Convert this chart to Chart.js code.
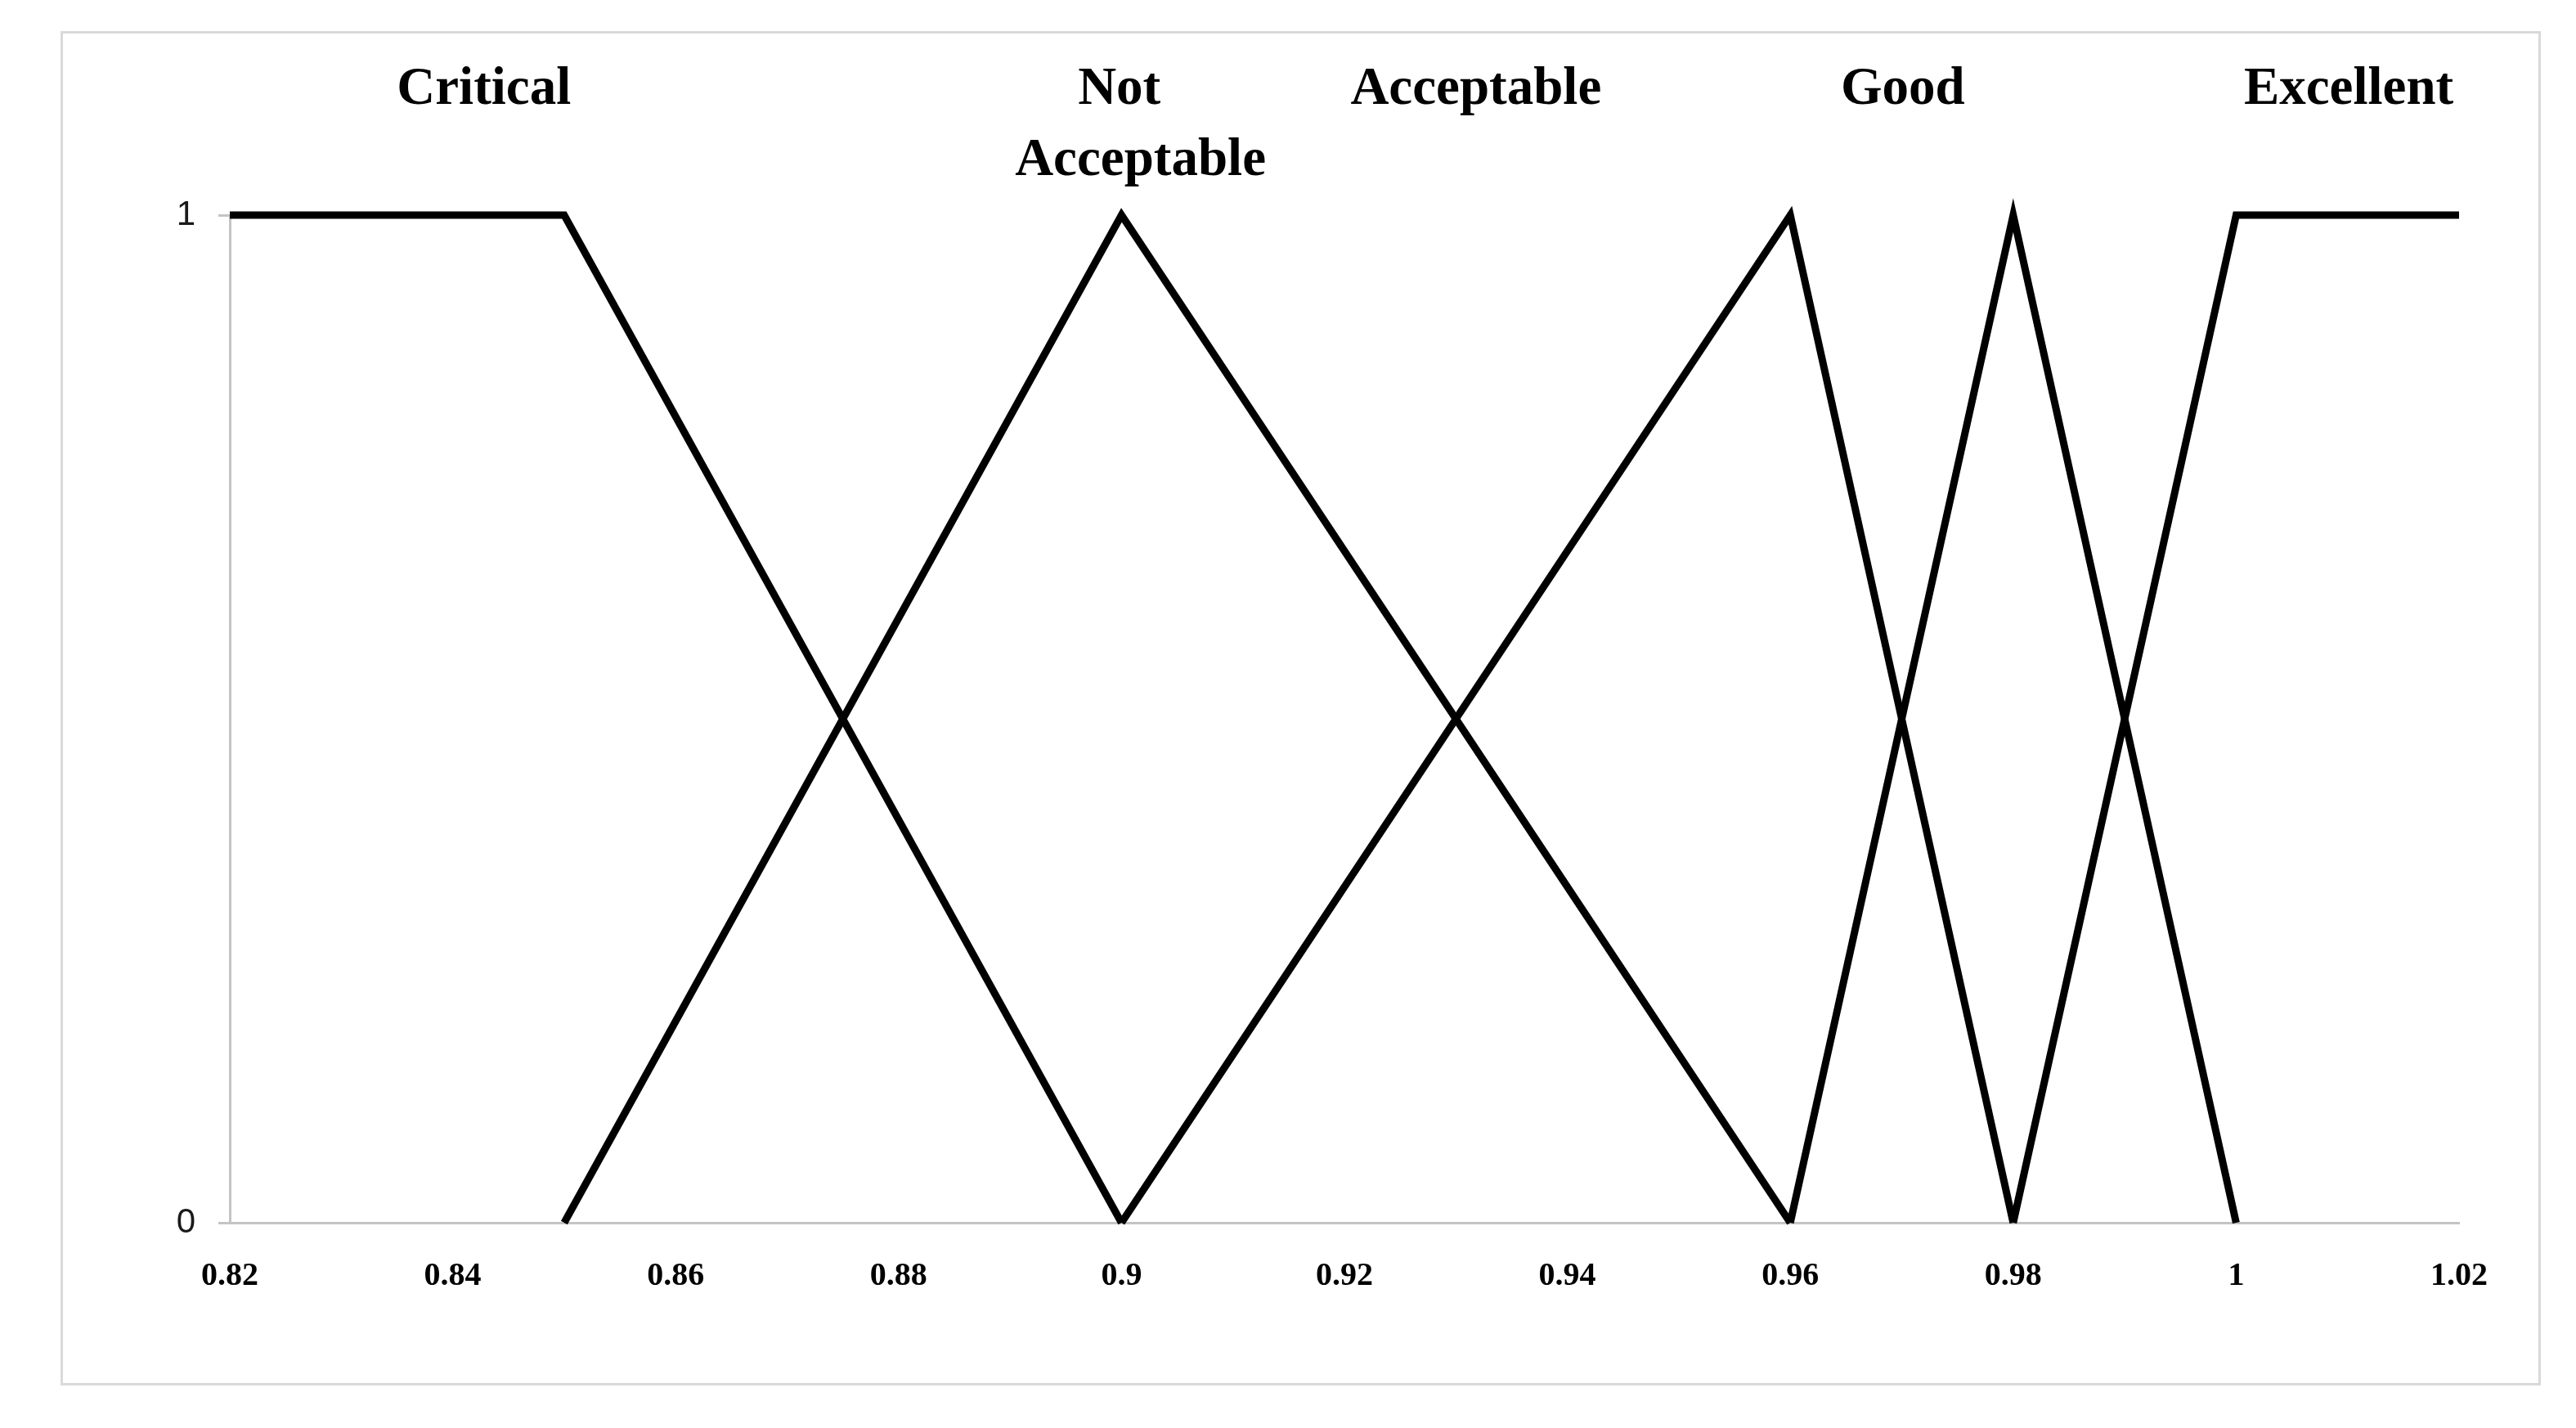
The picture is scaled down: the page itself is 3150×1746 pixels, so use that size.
<!DOCTYPE html>
<html>
<head>
<meta charset="utf-8">
<script src="https://cdn.jsdelivr.net/npm/chart.js@4.4.1/dist/chart.umd.min.js"></script>
<style>
  html, body { margin:0; padding:0; background:#ffffff; }
  #wrap { position:relative; width:3150px; height:1746px; }
  #marco { position:absolute; left:74px; top:38px; width:3027px; height:1650px; border:3px solid #d9d9d9; }
  canvas { position:absolute; left:0; top:0; }
</style>
</head>
<body>
<div id="wrap">
  <div id="marco"></div>
  <canvas id="chartFuzzy"></canvas>
</div>
<script>
// ── Datos ──
const xTicks = [0.82, 0.84, 0.86, 0.88, 0.9, 0.92, 0.94, 0.96, 0.98, 1, 1.02];
const yTicks = [0, 1];

const critical      = [[0.82, 1], [0.85, 1], [0.90, 0]];
const notAcceptable = [[0.85, 0], [0.90, 1], [0.96, 0]];
const acceptable    = [[0.90, 0], [0.96, 1], [0.98, 0]];
const good          = [[0.96, 0], [0.98, 1], [1.00, 0]];
const excellent     = [[0.98, 0], [1.00, 1], [1.02, 1]];

// etiquetas de cada conjunto (valor x del centro, fila)
const etiquetas = [
  { texto:'Critical',   x:0.8428, fila:0 },
  { texto:'Not',        x:0.8998, fila:0 },
  { texto:'Acceptable', x:0.9017, fila:1 },
  { texto:'Acceptable', x:0.9318, fila:0 },
  { texto:'Good',       x:0.9701, fila:0 },
  { texto:'Excellent',  x:1.0101, fila:0 },
];

const GRIS = '#c4c4c4';

const serie = (nombre, puntos) => ({
  label: nombre,
  data: puntos.map(p => ({ x:p[0], y:p[1] })),
  borderColor:'#000000', borderWidth:9, pointRadius:0, tension:0,
  fill:false, clip:false, borderJoinStyle:'miter'
});

// ── Plugin etiquetas superiores ──
const pluginEtiquetas = {
  id:'etiquetas',
  afterDraw(chart) {
    const { ctx, chartArea, scales } = chart;
    ctx.save();
    ctx.fillStyle = '#000000';
    ctx.font = 'bold 65px "Liberation Serif"';
    ctx.textAlign = 'center';
    ctx.textBaseline = 'middle';
    etiquetas.forEach(e => {
      const y = chartArea.top - 153 + e.fila * 87;
      ctx.fillText(e.texto, scales.x.getPixelForValue(e.x), y);
    });
    ctx.restore();
  }
};

new Chart(document.getElementById('chartFuzzy'), {
  type:'line',
  data:{
    datasets:[
      serie('Critical', critical),
      serie('Not Acceptable', notAcceptable),
      serie('Acceptable', acceptable),
      serie('Good', good),
      serie('Excellent', excellent),
    ]
  },
  options:{
    responsive:true, maintainAspectRatio:false, animation:false,
    layout:{ padding:{ left:100, top:263, right:143, bottom:131 } },
    plugins:{ legend:{ display:false }, tooltip:{ enabled:false } },
    scales:{
      x:{
        type:'linear', min:0.82, max:1.02,
        afterBuildTicks: s => { s.ticks = xTicks.map(v => ({ value:v })); },
        afterFit: s => { s.height = 120; },
        ticks:{ color:'#000000', padding:42, maxRotation:0, autoSkip:false,
          font:{ family:'"Liberation Serif"', size:40, weight:'bold' },
          callback: v => String(v) },
        grid:{ drawOnChartArea:false, drawTicks:false },
        border:{ display:true, color:GRIS, width:3 }
      },
      y:{
        type:'linear', min:0, max:1,
        afterBuildTicks: s => { s.ticks = yTicks.map(v => ({ value:v })); },
        afterFit: s => { s.width = 181; },
        ticks:{ color:'#1a1a1a', padding:28,
          font:{ family:'"Liberation Sans"', size:42 } },
        grid:{ drawOnChartArea:false, drawTicks:true, tickLength:14, color:GRIS, lineWidth:3 },
        border:{ display:true, color:GRIS, width:3 }
      }
    }
  },
  plugins:[pluginEtiquetas]
});
</script>
</body>
</html>
